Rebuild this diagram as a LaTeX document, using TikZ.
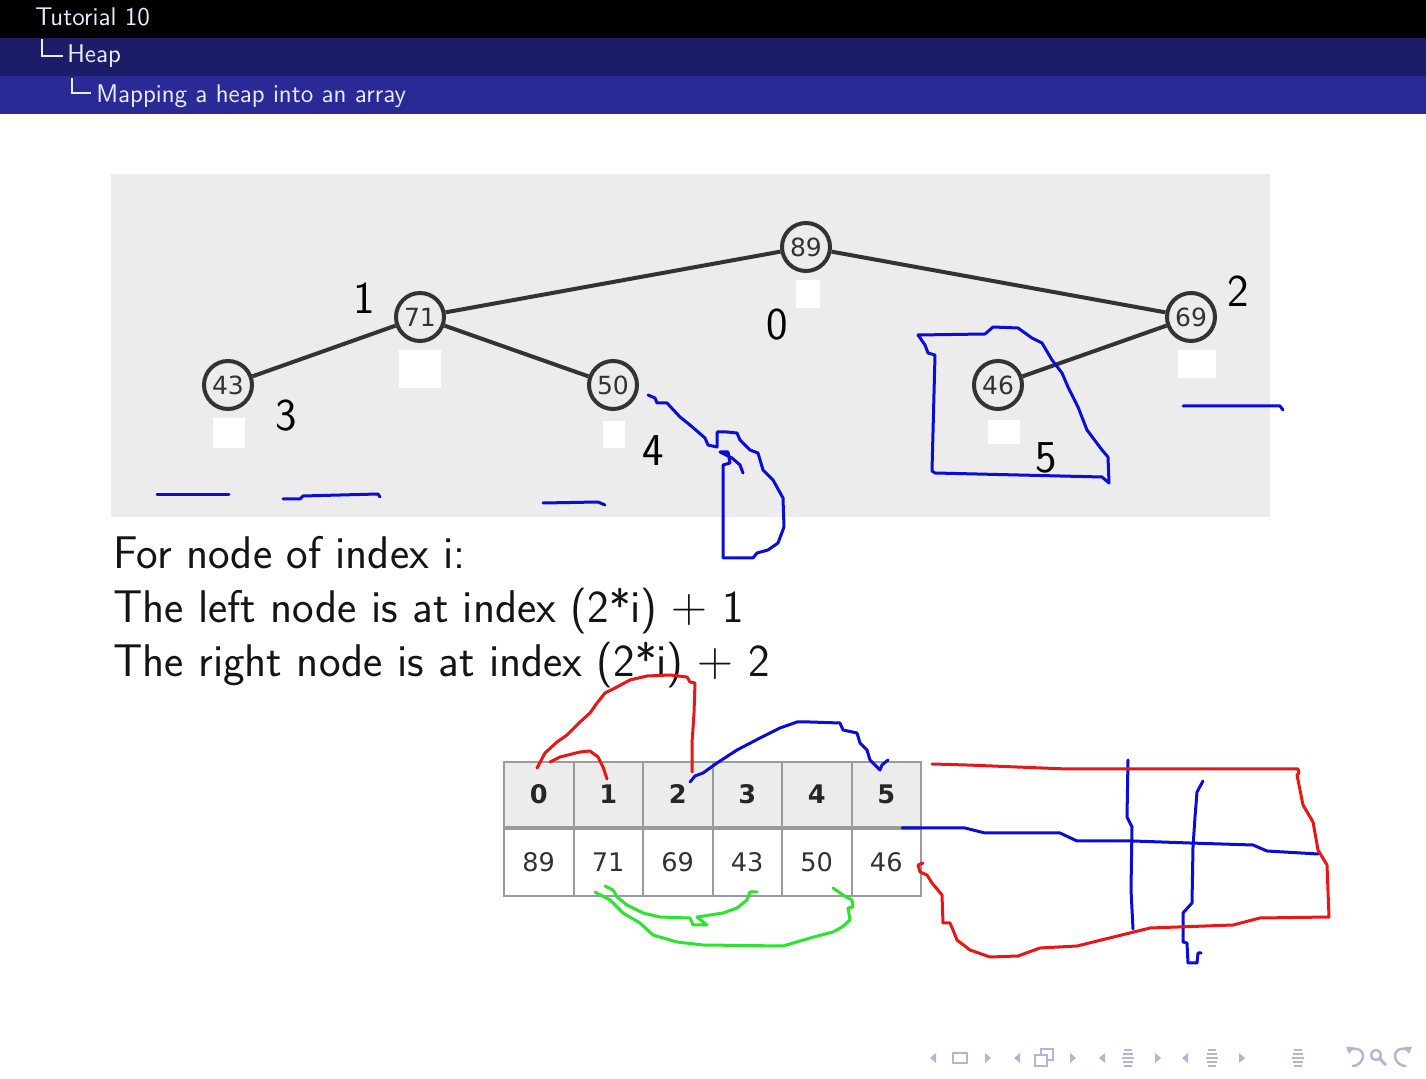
\documentclass[tikz,border=0pt]{standalone}
\usepackage{fontspec}
\usepackage{amsmath}
\usetikzlibrary{positioning}
\newfontfamily\numfont{DejaVu Sans}
\definecolor{bandmid}{RGB}{28,28,104}
\definecolor{bandlow}{RGB}{42,42,150}
\definecolor{panelgray}{RGB}{236,236,236}
\definecolor{edgegray}{RGB}{51,51,51}
\definecolor{cellgray}{RGB}{155,155,155}
\definecolor{inkblue}{RGB}{12,12,215}
\definecolor{inkred}{RGB}{232,22,22}
\definecolor{inkgreen}{RGB}{45,228,45}
\definecolor{navcol}{RGB}{180,180,214}
\tikzset{
  heapnode/.style={circle, draw=edgegray, line width=2pt, fill=panelgray, minimum size=24pt, inner sep=0pt,
    font=\numfont\fontsize{12.5}{14}\selectfont, text=edgegray},
  heapedge/.style={edgegray, line width=2pt},
  idxlabel/.style={font=\sffamily\fontsize{22.8}{27}\selectfont, inner sep=0pt},
  bodytext/.style={font=\sffamily\fontsize{22.9}{27}\selectfont, inner sep=0pt, anchor=base west, text=black!92},
  headtext/.style={font=\sffamily\fontsize{12.8}{15}\selectfont, inner sep=0pt, anchor=base west, text=white!92!blue},
  headcell/.style={rectangle, draw=cellgray, line width=1pt, fill=panelgray, minimum width=34.75pt,
    minimum height=32.5pt, inner sep=0pt, font=\numfont\bfseries\fontsize{12.8}{14}\selectfont, text=black!85},
  valcell/.style={headcell, fill=white, minimum height=33.5pt, font=\numfont\fontsize{12.8}{14}\selectfont, text=edgegray},
  ink/.style={line width=1.5pt, line join=round, line cap=round},
}
\begin{document}
\begin{tikzpicture}[x=0.5pt, y=-0.5pt]
    \useasboundingbox (0,0) rectangle (1426,1079);
    \fill[white] (0,0) rectangle (1426,1079);

    % Title bands
    \fill[black] (0,0) rectangle (1426,38);
    \fill[bandmid] (0,38) rectangle (1426,76);
    \fill[bandlow] (0,76) rectangle (1426,114);
    \node[headtext] (title) at (35,26) {Tutorial 10};
    \node[headtext] (sect) at (67,63) {Heap};
    \node[headtext] (subsect) at (96,103) {Mapping a heap into an array};
    \draw[white!92!blue, line width=1pt] (42,39) -- (42,56) -- (63,56);
    \draw[white!92!blue, line width=1pt] (72,78) -- (72,93) -- (91,93);

    % Tree panel
    \fill[panelgray] (111,174) rectangle (1270,517);
    \node[heapnode] (n89) at (806,247) {89};
    \node[heapnode] (n71) at (420,317) {71};
    \node[heapnode] (n69) at (1191,317) {69};
    \node[heapnode] (n43) at (228,385) {43};
    \node[heapnode] (n50) at (613,385) {50};
    \node[heapnode] (n46) at (998,385) {46};
    \draw[heapedge] (n89) -- (n71);
    \draw[heapedge] (n89) -- (n69);
    \draw[heapedge] (n71) -- (n43);
    \draw[heapedge] (n71) -- (n50);
    \draw[heapedge] (n69) -- (n46);

    % White slots under the nodes
    \fill[white] (796,280) rectangle (820,308);
    \fill[white] (399,350) rectangle (441,388);
    \fill[white] (213,418) rectangle (245,448);
    \fill[white] (603,421) rectangle (625,448);
    \fill[white] (988,420) rectangle (1020,444);
    \fill[white] (1178,350) rectangle (1216,378);

    % Index labels
    \node[idxlabel] (lab0) at (777,325) {0};
    \node[idxlabel] (lab1) at (364,298) {1};
    \node[idxlabel] (lab2) at (1238,291) {2};
    \node[idxlabel] (lab3) at (286,416) {3};
    \node[idxlabel] (lab4) at (653,451) {4};
    \node[idxlabel] (lab5) at (1046,458) {5};

    % Rules
    \node[bodytext] (rule0) at (113,569) {For node of index i:};
    \node[bodytext] (rule1) at (113,623) {The left node is at index (2*i) $+$ 1};
    \node[bodytext] (rule2) at (113,677) {The right node is at index (2*i) $+$ 2};

    % Array
    \foreach \v [count=\k from 0] in {89,71,69,43,50,46} {
        \node[headcell] (h\k) at ({538.75+69.5*\k},794.5) {\k};
        \node[valcell] (v\k) at ({538.75+69.5*\k},862.5) {\v};
    }

    % Hand-drawn marks, blue
    \draw[ink, inkblue] (157,495) -- (229,495);
    \draw[ink, inkblue] (283,499) -- (300,499) -- (303,496) -- (378,494) -- (380,497);
    \draw[ink, inkblue] (543,503) -- (598,502) -- (605,505);
    \draw[ink, inkblue] (1183,406) -- (1280,406) -- (1283,410);
    \draw[ink, inkblue] (648,395) -- (655,398) -- (657,403) -- (667,403) -- (680,417) -- (690,425) -- (705,438)
        -- (708,445) -- (717,447) -- (717,432) -- (727,432) -- (737,433) -- (740,440) -- (750,450) -- (758,453)
        -- (763,470) -- (773,480) -- (783,498) -- (784,527) -- (778,543) -- (768,550) -- (757,553) -- (753,558)
        -- (723,558) -- (723,465) -- (730,463) -- (728,452) -- (720,452) -- (732,458) -- (740,465) -- (743,473);
    \draw[ink, inkblue] (918,335) -- (985,334) -- (993,327) -- (1018,328) -- (1032,338) -- (1042,343) -- (1052,360)
        -- (1062,373) -- (1068,387) -- (1078,407) -- (1087,430) -- (1102,450) -- (1108,457) -- (1109,483)
        -- (1102,477) -- (935,473) -- (932,471) -- (935,355) -- (928,353) -- (925,345) -- cycle;
    \draw[ink, inkblue] (690,782) -- (695,776) -- (703,773) -- (717,763) -- (737,750) -- (760,738) -- (780,728)
        -- (797,722) -- (810,722) -- (840,723) -- (843,730) -- (857,733) -- (860,743) -- (867,750) -- (870,760)
        -- (880,770) -- (882,765) -- (888,760);
    \draw[ink, inkblue] (902,828) -- (965,828) -- (985,833) -- (1060,833) -- (1077,841) -- (1133,841) -- (1190,843)
        -- (1253,845) -- (1267,851) -- (1318,854);
    \draw[ink, inkblue] (1128,760) -- (1127,817) -- (1132,827) -- (1131,890) -- (1133,929);
    \draw[ink, inkblue] (1203,781) -- (1197,792) -- (1195,817) -- (1193,847) -- (1192,903) -- (1183,913)
        -- (1183,942) -- (1187,943) -- (1188,963) -- (1197,963) -- (1198,953) -- (1201,953);

    % Hand-drawn marks, red
    \draw[ink, inkred] (537,768) -- (545,753) -- (557,742) -- (567,735) -- (580,722) -- (590,713) -- (597,703)
        -- (605,693) -- (617,687) -- (630,680) -- (647,676) -- (670,675) -- (687,677) -- (690,682) -- (695,683)
        -- (694,713) -- (692,743) -- (692,772);
    \draw[ink, inkred] (550,762) -- (560,757) -- (580,752) -- (590,751) -- (598,757) -- (603,767) -- (607,779);
    \draw[ink, inkred] (923,863) -- (918,865) -- (920,872) -- (927,875) -- (932,883) -- (942,895) -- (943,923)
        -- (950,923) -- (953,930) -- (957,940) -- (970,950) -- (990,957) -- (1018,956) -- (1040,948) -- (1077,946)
        -- (1150,928) -- (1233,925) -- (1260,918) -- (1329,917) -- (1327,865) -- (1318,850) -- (1313,822)
        -- (1303,805) -- (1297,775) -- (1299,773) -- (1298,769) -- (1067,769) -- (967,765) -- (932,764);

    % Hand-drawn marks, green
    \draw[ink, inkgreen] (595,892) -- (610,900) -- (623,913) -- (640,923) -- (653,935) -- (677,942) -- (703,945)
        -- (783,946) -- (810,938) -- (833,932) -- (842,927) -- (850,920) -- (848,908) -- (853,907) -- (852,900)
        -- (843,895) -- (833,888);
    \draw[ink, inkgreen] (605,886) -- (613,890) -- (617,897) -- (627,905) -- (643,913) -- (660,917) -- (690,918)
        -- (693,925) -- (707,925) -- (697,917) -- (723,913) -- (737,908) -- (747,900) -- (750,892) -- (757,892);

    % Navigation symbols
    \foreach \xa/\xb in {933/988, 1017/1073, 1102/1158, 1185/1242} {
        \fill[navcol] (\xa-3,1058) -- (\xa+3,1053) -- (\xa+3,1063) -- cycle;
        \fill[navcol] (\xb+3,1058) -- (\xb-3,1053) -- (\xb-3,1063) -- cycle;
    }
    \draw[navcol, line width=1pt] (953,1053) rectangle (967,1063);
    \draw[navcol, line width=1pt, fill=white] (1041,1049) rectangle (1053,1060);
    \draw[navcol, line width=1pt, fill=white] (1035,1055) rectangle (1047,1066);
    \foreach \xc in {1128, 1212, 1298} {
        \foreach \yl/\hw in {1050/4, 1054/5, 1058/6, 1062/5, 1066/4} {
            \draw[navcol, line width=1pt] (\xc-\hw,\yl) -- (\xc+\hw,\yl);
        }
    }
    \draw[navcol, line width=1.2pt] (1350,1050) .. controls (1358,1046) and (1366,1052) .. (1362,1060)
        .. controls (1360,1064) and (1356,1066) .. (1352,1066);
    \fill[navcol] (1346,1047) -- (1354,1047) -- (1349,1054) -- cycle;
    \draw[navcol, line width=1.2pt] (1376,1055) circle (5);
    \draw[navcol, line width=1.5pt] (1380,1059) -- (1386,1065);
    \draw[navcol, line width=1.2pt] (1408,1050) .. controls (1400,1046) and (1392,1052) .. (1396,1060)
        .. controls (1398,1064) and (1402,1066) .. (1406,1066);
    \fill[navcol] (1412,1047) -- (1404,1047) -- (1409,1054) -- cycle;
\end{tikzpicture}
\end{document}
